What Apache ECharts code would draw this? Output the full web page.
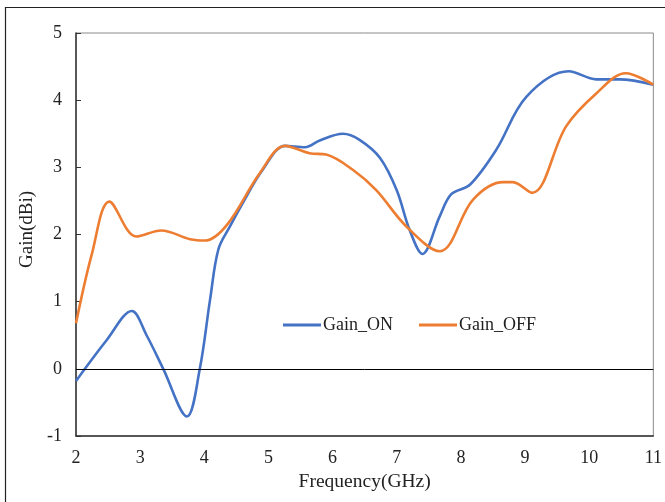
<!DOCTYPE html>
<html>
<head>
<meta charset="utf-8">
<script src="https://cdn.jsdelivr.net/npm/echarts@6/dist/echarts.min.js"></script>
<style>
  html, body { margin: 0; padding: 0; background: #fff; }
  #chart { width: 665px; height: 502px; }
</style>
</head>
<body>
<div id="chart"></div>
<script>
// Antenna gain vs frequency, switch ON / OFF states
const freqOn  = [2.0, 2.48, 2.87, 3.1, 3.36, 3.73, 3.93, 4.09, 4.22, 4.40, 4.63, 4.9, 5.26, 5.57, 5.8, 6.16, 6.42, 6.74, 7.0, 7.2, 7.40, 7.67, 7.85, 8.14, 8.55, 9.02, 9.68, 10.11, 10.47, 11.0];
const gainOn  = [-0.18, 0.43, 0.86, 0.50, 0.0, -0.71, 0.0, 1.03, 1.78, 2.12, 2.52, 2.95, 3.32, 3.30, 3.40, 3.50, 3.41, 3.14, 2.66, 2.07, 1.71, 2.27, 2.60, 2.74, 3.26, 4.05, 4.43, 4.31, 4.31, 4.23];
const freqOff = [2.0, 2.25, 2.52, 2.94, 3.33, 3.78, 4.01, 4.35, 4.87, 5.26, 5.64, 5.90, 6.32, 6.68, 7.15, 7.67, 8.19, 8.66, 8.81, 9.11, 9.64, 10.11, 10.57, 11.0];
const gainOff = [0.68, 1.72, 2.49, 1.97, 2.06, 1.93, 1.91, 2.14, 2.92, 3.32, 3.21, 3.19, 2.96, 2.66, 2.12, 1.75, 2.52, 2.78, 2.78, 2.62, 3.61, 4.10, 4.40, 4.23];
const xTicks = { min: 2, max: 11, step: 1 };
const yTicks = { min: -1, max: 5, step: 1 };
const seriesNames = ['Gain_ON', 'Gain_OFF'];
const xTitle = 'Frequency(GHz)';
const yTitle = 'Gain(dBi)';

const pairs = (xs, ys) => xs.map((x, i) => [x, ys[i]]);
const font = "'Liberation Serif', 'Times New Roman', serif";
const fs = 18;
const titleFs = 19.5;

const chart = echarts.init(document.getElementById('chart'), null, { renderer: 'canvas' });
chart.setOption({
  backgroundColor: '#fff',
  animation: false,
  textStyle: { fontFamily: font, color: '#222' },
  graphic: [{
    type: 'rect',
    shape: { x: 5.5, y: 7.5, width: 700, height: 600 },
    style: { fill: 'none', stroke: '#222', lineWidth: 1.2 },
    silent: true, z: -1
  }],
  grid: {
    left: 76, right: 11, top: 33, bottom: 66,
    show: true, borderColor: '#8a8a8a', borderWidth: 1
  },
  legend: {
    data: seriesNames,
    left: 278, top: 311,
    icon: 'rect', itemWidth: 38, itemHeight: 3, itemGap: 26,
    textStyle: { fontFamily: font, fontSize: fs, color: '#222', padding: [0, 0, 0, -3] }
  },
  xAxis: {
    type: 'value', min: xTicks.min, max: xTicks.max, interval: xTicks.step,
    name: xTitle, nameLocation: 'middle', nameGap: 35,
    nameTextStyle: { fontFamily: font, fontSize: titleFs, color: '#222' },
    axisLine: { show: true, onZero: false, lineStyle: { color: '#333', width: 1.5 } },
    axisTick: { show: false },
    axisLabel: { fontFamily: font, fontSize: fs, color: '#222', margin: 13 },
    splitLine: { show: false }
  },
  yAxis: {
    type: 'value', min: yTicks.min, max: yTicks.max, interval: yTicks.step,
    name: yTitle, nameLocation: 'middle', nameGap: 33, nameRotate: 90,
    nameTextStyle: { fontFamily: font, fontSize: 19, color: '#222', padding: [0, 0, 0, 10] },
    axisLine: { show: true, lineStyle: { color: '#333', width: 1.5 } },
    axisTick: { show: true, inside: true, length: 5, lineStyle: { color: '#333' } },
    axisLabel: { fontFamily: font, fontSize: fs, color: '#222', margin: 14 },
    splitLine: { show: false }
  },
  series: [
    {
      name: seriesNames[0], type: 'line', data: pairs(freqOn, gainOn),
      smooth: 0.35, showSymbol: false, symbol: 'none',
      lineStyle: { color: '#4472C4', width: 2.6 }, itemStyle: { color: '#4472C4' },
      markLine: {
        silent: true, symbol: 'none', label: { show: false },
        lineStyle: { color: '#000', width: 1, type: 'solid' },
        data: [{ yAxis: 0 }]
      }
    },
    {
      name: seriesNames[1], type: 'line', data: pairs(freqOff, gainOff),
      smooth: 0.35, showSymbol: false, symbol: 'none',
      lineStyle: { color: '#ED7D31', width: 2.6 }, itemStyle: { color: '#ED7D31' }
    }
  ]
});
</script>
</body>
</html>
